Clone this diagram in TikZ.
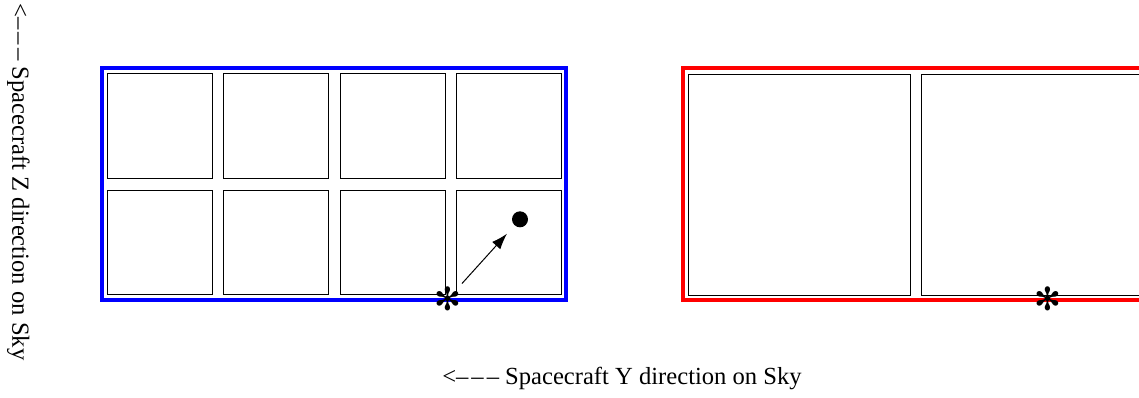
\documentclass[tikz,border=0pt]{standalone}
\usepackage{fontspec}
\usepackage{tikz}
\usetikzlibrary{arrows.meta,positioning}
\setmainfont{Liberation Serif}
\newfontfamily\dingfont{DejaVu Sans}
\newcommand{\leftdashes}{<\textendash\kern1.5pt\textendash\kern1.5pt\textendash{} }

\begin{document}
\begin{tikzpicture}[
  x=0.5pt,y=-0.5pt,
  font=\fontsize{12.3}{14}\selectfont,
  cell/.style={draw,line width=0.5pt,minimum width=52.5pt,minimum height=52.3pt,inner sep=0pt},
  widecell/.style={cell,minimum width=111pt,minimum height=110.5pt},
  frame/.style={line width=2pt},
  starmark/.style={inner sep=0pt,font=\dingfont\fontsize{16}{16}\selectfont},
  arr/.style={-{Latex[length=8pt,width=5.5pt]},line width=0.5pt},
]
\useasboundingbox (0,0) rectangle (1139,397);
\clip (0,0) rectangle (1139,397);

\draw[frame,blue] (102,68) rectangle (565.5,299.5);
\draw[frame,red] (683,68) rectangle (1150,299.5);

\node[cell] (b11) at (159.5,126) {};
\node[cell] (b12) at (276.2,126) {};
\node[cell] (b13) at (392.8,126) {};
\node[cell] (b14) at (509.3,126) {};
\node[cell] (b21) at (159.5,242.5) {};
\node[cell] (b22) at (276.2,242.5) {};
\node[cell] (b23) at (392.8,242.5) {};
\node[cell] (b24) at (509.3,242.5) {};

\node[widecell] (r1) at (799,184.5) {};
\node[widecell] (r2) at (1032,184.5) {};

\node[starmark] (starA) at (448,299) {✻};
\node[starmark] (starB) at (1047.7,299.3) {✻};
\node[circle,fill=black,inner sep=0pt,minimum size=8pt] (dot) at (520,219.3) {};

\draw[arr,shorten <=10.4pt,shorten >=5.5pt] (starA.center) -- (dot);

\node (ylabel) at (622,378) {\leftdashes Spacecraft Y direction on Sky};
\node[rotate=-90] (zlabel) at (18.5,182) {\leftdashes Spacecraft Z direction on Sky};

\end{tikzpicture}
\end{document}
